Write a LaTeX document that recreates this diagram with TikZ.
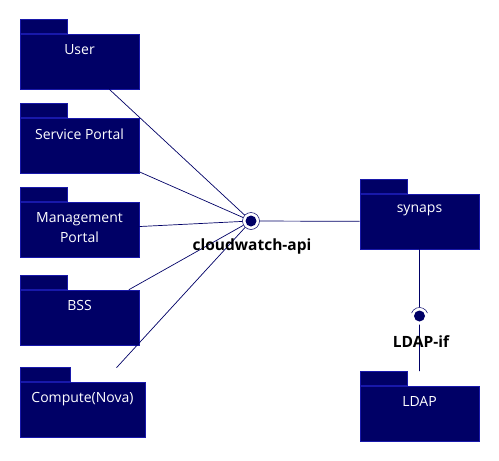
\documentclass[tikz,border=0pt]{standalone}
\usepackage{fontspec}
\setmainfont{Open Sans}
\usetikzlibrary{positioning}

\definecolor{pkgblue}{RGB}{0,0,102}
\definecolor{pkgedge}{RGB}{24,24,170}

\tikzset{
  pkg/.style={draw=pkgedge, fill=pkgblue, line width=0.6pt, minimum width=119pt, minimum height=55pt, inner sep=0pt},
  pkgtab/.style={draw=pkgedge, fill=pkgblue, line width=0.6pt, minimum width=47pt, minimum height=14pt, inner sep=0pt, anchor=south west},
  pkgtext/.style={anchor=north, yshift=-8.5pt, text=white, inner sep=2pt, align=center, font=\fontsize{14}{20.5}\selectfont},
  link/.style={draw=pkgblue, line width=0.7pt},
  ifacering/.style={circle, minimum size=17pt, inner sep=0pt},
  ifacename/.style={font=\bfseries\fontsize{15.5}{17}\selectfont, text=black, inner sep=1pt}
}

\begin{document}
\begin{tikzpicture}[x=1pt,y=-1pt]
\useasboundingbox (0,0) rectangle (499,461);

% packages
\node[pkg, label={[pkgtext]north:User}] (user) at (79.5,61.5) {};
\node[pkgtab] (userT) at (user.north west) {};
\node[pkg, label={[pkgtext]north:Service Portal}] (service) at (79.5,145.5) {};
\node[pkgtab] (serviceT) at (service.north west) {};
\node[pkg, label={[pkgtext]north:Management\\Portal}] (mgmt) at (79.5,229.5) {};
\node[pkgtab] (mgmtT) at (mgmt.north west) {};
\node[pkg, label={[pkgtext]north:BSS}] (bss) at (79.5,317.5) {};
\node[pkgtab] (bssT) at (bss.north west) {};
\node[pkg, minimum width=125pt, label={[pkgtext]north:Compute(Nova)}] (compute) at (82.5,409.5) {};
\node[pkgtab, minimum width=50pt] (computeT) at (compute.north west) {};
\node[pkg, label={[pkgtext]north:synaps}] (synaps) at (419.5,221.5) {};
\node[pkgtab] (synapsT) at (synaps.north west) {};
\node[pkg, label={[pkgtext]north:LDAP}] (ldap) at (419.5,413.5) {};
\node[pkgtab] (ldapT) at (ldap.north west) {};

% interfaces
\node[ifacering, draw=pkgblue, line width=0.5pt] (api) at (251,221) {};
\fill[pkgblue] (api) circle (5.5pt);
\node[ifacering] (ldapif) at (419.5,316) {};
\fill[pkgblue] (ldapif) circle (5.5pt);
\draw[link, line width=0.5pt] ([shift={(20:8.5pt)}]ldapif.center) arc (20:160:8.5pt);

% connectors
\draw[link]
(api) -- (user)
(api) -- (service)
(api) -- (mgmt)
(api) -- (bss)
(api) -- ([shift={(34,-14)}]compute.north)
(api) -- (synaps)
(synaps) -- (ldapif)
(ldapif) -- (ldapif |- ldapT.north);

\node[ifacename] (apiname) at (252,246.5) {cloudwatch-api};
\node[ifacename] (ldapifname) at (421,341.5) {LDAP-if};
\end{tikzpicture}
\end{document}
